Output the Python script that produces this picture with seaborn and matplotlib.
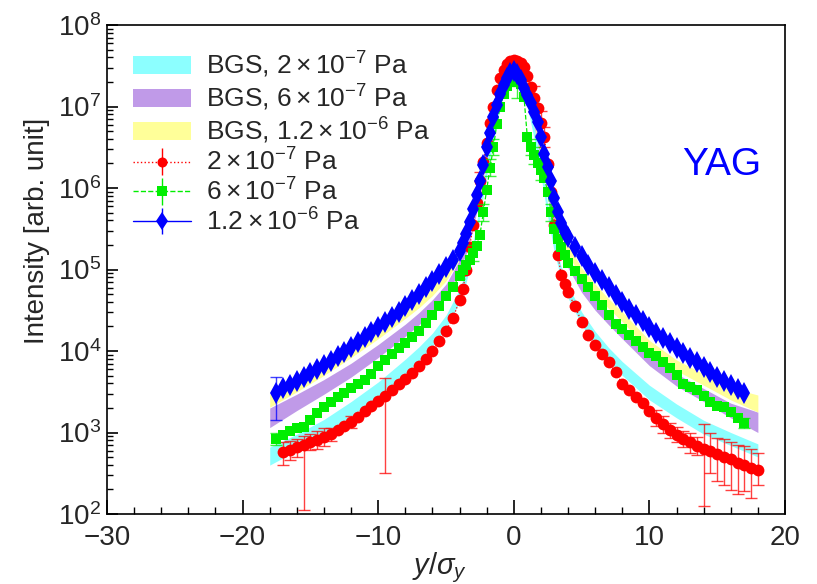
import numpy as np
import pandas as pd
import matplotlib
matplotlib.use("Agg")
import matplotlib.pyplot as plt
import seaborn as sns
from matplotlib.patches import Patch
from matplotlib.ticker import LogLocator, MultipleLocator, NullFormatter

# ---------------- data (intensity values, stored as log10) ----------------
point_x = [-17.5, -17, -16.5, -16, -15.5, -15, -14.5, -14, -13.5, -13, -12.5, -12, -11.5, -11,
           -10.5, -10, -9.5, -9, -8.5, -8, -7.5, -7, -6.5, -6, -5.5, -5, -4.5, -4,
           -3.75, -3.5, -3.25, -3, -2.75, -2.5, -2.25, -2, -1.75, -1.5, -1.25, -1, -0.75, -0.5, -0.25,
           0, 0.25, 0.5, 0.75, 1, 1.25, 1.5, 1.75, 2, 2.25, 2.5, 2.75, 3, 3.25, 3.5, 3.75,
           4, 4.5, 5, 5.5, 6, 6.5, 7, 7.5, 8, 8.5, 9, 9.5, 10, 10.5, 11, 11.5, 12, 12.5, 13,
           13.5, 14, 14.5, 15, 15.5, 16, 16.5, 17, 17.5, 18]

nan = float("nan")

red_log10 = [nan, 2.76, 2.79, 2.82, 2.85, 2.88, 2.91, 2.94, 2.98, 3.03, 3.08, 3.13, 3.19, 3.26,
             3.32, 3.39, 3.45, 3.52, 3.59, 3.66, 3.73, 3.81, 3.90, 4.00, 4.12, 4.25, 4.40, 4.62,
             4.76, 5.00, 5.28, 5.55, 5.82, 6.08, 6.32, 6.55, 6.80, 7.00, 7.20, 7.35, 7.45, 7.52, 7.56,
             7.57, 7.56, 7.53, 7.48, 7.38, 7.24, 7.10, 6.98, 6.80, 6.62, 6.30, 5.95, 5.55, 5.18, 4.93, 4.82,
             4.72, 4.55, 4.36, 4.20, 4.07, 3.96, 3.86, 3.74, 3.60, 3.52, 3.44, 3.36, 3.26, 3.18, 3.10,
             3.03, 2.97, 2.92, 2.88, 2.84, 2.80, 2.77, 2.74, 2.70, 2.67, 2.63, 2.60, 2.57, 2.54]

green_log10 = [2.92, 2.97, 3.02, 3.05, 3.07, 3.15, 3.24, 3.31, 3.38, 3.44, 3.49, 3.54, 3.59, 3.64,
               3.72, 3.82, 3.89, 3.96, 4.04, 4.10, 4.17, 4.25, 4.34, 4.44, 4.55, 4.67, 4.78, 4.92,
               4.99, 5.05, 5.12, 5.20, 5.29, 5.42, 5.70, 5.98, 6.25, 6.50, 6.79, 7.00, 7.15, 7.25, 7.33,
               7.33, 7.30, 7.27, 7.12, 6.62, 6.50, 6.40, 6.31, 6.22, 6.12, 5.95, 5.70, 5.50, 5.38, 5.28, 5.18,
               5.08, 4.98, 4.88, 4.79, 4.68, 4.56, 4.44, 4.33, 4.27, 4.20, 4.12, 4.05, 3.98, 3.94, 3.87,
               3.79, 3.70, 3.60, 3.56, 3.52, 3.45, 3.38, 3.33, 3.31, 3.25, 3.18, 3.12, nan, nan]

blue_log10 = [3.49, 3.54, 3.58, 3.63, 3.68, 3.73, 3.78, 3.83, 3.88, 3.94, 3.99, 4.05, 4.11, 4.17,
              4.23, 4.29, 4.35, 4.42, 4.48, 4.55, 4.62, 4.70, 4.78, 4.86, 4.94, 5.03, 5.12, 5.23,
              5.32, 5.44, 5.58, 5.74, 5.92, 6.08, 6.28, 6.50, 6.68, 6.87, 7.02, 7.15, 7.26, 7.35, 7.41,
              7.43, 7.40, 7.32, 7.23, 7.14, 7.04, 6.93, 6.81, 6.62, 6.42, 6.26, 6.09, 5.88, 5.70, 5.57, 5.46,
              5.40, 5.28, 5.16, 5.06, 4.96, 4.87, 4.78, 4.69, 4.60, 4.52, 4.44, 4.37, 4.30, 4.22, 4.16,
              4.10, 4.04, 3.98, 3.92, 3.86, 3.80, 3.74, 3.68, 3.63, 3.58, 3.53, 3.49, nan, nan]

# error bars: x position, lower and upper bound (log10)
red_err_x = [-17, -16.5, -16, -15.5, -15, -14.5, -14, -13.5, -12, -9.5, -2.5, 1.5, 2, 2.25,
             10.5, 11, 11.5, 12, 12.5, 13, 13.5, 14, 14.5, 15, 15.5, 16, 16.5, 17, 17.5, 18]
red_err_lo = [2.60, 2.66, 2.70, 2.05, 2.78, 2.80, 2.84, 2.90, 3.05, 2.50, 5.95, 6.95, 6.65, 6.50,
              3.08, 3.00, 2.93, 2.88, 2.82, 2.75, 2.72, 2.10, 2.50, 2.40, 2.35, 2.30, 2.25, 2.28, 2.20, 2.35]
red_err_hi = [2.88, 2.90, 2.92, 2.96, 2.98, 3.02, 3.05, 3.06, 3.20, 3.67, 6.20, 7.25, 6.95, 6.75,
              3.28, 3.20, 3.12, 3.07, 3.02, 3.00, 2.95, 3.10, 3.00, 2.93, 2.92, 2.88, 2.85, 2.83, 2.80, 2.75]

green_err_x = [-17.5, -3, -2.25, -1.75, -1.5, -0.25, 0.25, 1.25, 1.5, 2, 2.75, 17]
green_err_lo = [2.85, 5.10, 5.60, 6.15, 6.40, 7.25, 7.10, 6.40, 6.30, 6.10, 5.60, 3.05]
green_err_hi = [3.00, 5.30, 5.80, 6.35, 6.60, 7.40, 7.40, 6.60, 6.50, 6.30, 5.80, 3.18]

blue_err_x = [-17.5]
blue_err_lo = [3.15]
blue_err_hi = [3.68]

# BGS bands (log10 lower / upper edge)
band_x = [-18, -16, -14, -12, -10, -8, -7, -6, -5, -4, -3.5, -3, -2.5, -2, -1.5, -1, -0.5, 0,
          0.5, 1, 1.5, 2, 2.5, 3, 3.5, 4, 5, 6, 7, 8, 10, 12, 14, 16, 18]
cyan_lo = [2.60, 2.78, 2.98, 3.20, 3.44, 3.72, 3.88, 4.06, 4.28, 4.60, 4.85, 5.20, 5.65, 6.15, 6.60,
           7.00, 7.30, 7.40, 7.30, 7.00, 6.60, 6.15, 5.65, 5.20, 4.88, 4.65, 4.32, 4.08, 3.88, 3.70,
           3.40, 3.18, 2.98, 2.84, 2.70]
cyan_hi = [2.82, 2.98, 3.16, 3.38, 3.62, 3.90, 4.05, 4.22, 4.44, 4.76, 5.00, 5.35, 5.80, 6.30, 6.75,
           7.15, 7.42, 7.50, 7.42, 7.15, 6.75, 6.30, 5.80, 5.35, 5.03, 4.80, 4.48, 4.24, 4.04, 3.87,
           3.58, 3.35, 3.15, 3.00, 2.86]
purple_lo = [3.06, 3.27, 3.47, 3.68, 3.92, 4.18, 4.32, 4.48, 4.68, 4.98, 5.20, 5.50, 5.90, 6.35, 6.75,
             7.05, 7.30, 7.38, 7.30, 7.05, 6.75, 6.35, 5.90, 5.50, 5.22, 5.02, 4.72, 4.50, 4.32, 4.15,
             3.82, 3.57, 3.38, 3.18, 3.00]
purple_hi = [3.30, 3.47, 3.65, 3.85, 4.08, 4.33, 4.47, 4.63, 4.82, 5.12, 5.34, 5.64, 6.04, 6.48, 6.88,
             7.18, 7.42, 7.48, 7.42, 7.18, 6.88, 6.48, 6.04, 5.64, 5.36, 5.16, 4.86, 4.64, 4.46, 4.30,
             3.96, 3.72, 3.54, 3.36, 3.25]
yellow_lo = [3.31, 3.50, 3.70, 3.92, 4.15, 4.40, 4.53, 4.68, 4.86, 5.12, 5.32, 5.60, 5.98, 6.40, 6.78,
             7.07, 7.30, 7.37, 7.30, 7.07, 6.78, 6.40, 5.98, 5.62, 5.36, 5.18, 4.90, 4.70, 4.52, 4.36,
             4.00, 3.76, 3.58, 3.40, 3.25]
yellow_hi = [3.47, 3.66, 3.85, 4.06, 4.29, 4.53, 4.66, 4.81, 4.98, 5.24, 5.44, 5.72, 6.10, 6.52, 6.90,
             7.19, 7.42, 7.47, 7.42, 7.19, 6.90, 6.52, 6.10, 5.74, 5.48, 5.30, 5.02, 4.82, 4.64, 4.48,
             4.13, 3.89, 3.72, 3.55, 3.46]

band_labels = [r"BGS, $\mathdefault{2\times10^{-7}}$ Pa", r"BGS, $\mathdefault{6\times10^{-7}}$ Pa",
               r"BGS, $\mathdefault{1.2\times10^{-6}}$ Pa"]
series_labels = [r"$\mathdefault{2\times10^{-7}}$ Pa", r"$\mathdefault{6\times10^{-7}}$ Pa",
                 r"$\mathdefault{1.2\times10^{-6}}$ Pa"]

# ---------------- style ----------------
sns.set_style("ticks")
plt.rcParams["font.family"] = ["Liberation Sans", "DejaVu Sans"]
plt.rcParams["mathtext.fontset"] = "custom"
plt.rcParams["mathtext.rm"] = "Liberation Sans"
plt.rcParams["mathtext.it"] = "Liberation Sans:italic"
plt.rcParams["mathtext.bf"] = "Liberation Sans:bold"
plt.rcParams["axes.linewidth"] = 1.2

fig = plt.figure(figsize=(8.17, 5.84), dpi=100)
ax = fig.add_axes([107 / 817, 1 - 514 / 584, 678 / 817, 489 / 584])

band_colors = ["#8cffff", "#c09ae8", "#ffff99"]
for lo, hi, col in zip([cyan_lo, purple_lo, yellow_lo], [cyan_hi, purple_hi, yellow_hi], band_colors):
    ax.fill_between(band_x, 10 ** np.array(lo), 10 ** np.array(hi), color=col, lw=0, zorder=1)

series = [
    (red_log10, red_err_x, red_err_lo, red_err_hi, "#ff0000", "o", 8.5, ":"),
    (green_log10, green_err_x, green_err_lo, green_err_hi, "#00ee00", "s", 7.8, "--"),
    (blue_log10, blue_err_x, blue_err_lo, blue_err_hi, "#0000ff", "d", 11.0, "-"),
]

handles = []
for k, (vals, ex, elo, ehi, col, mk, ms, ls) in enumerate(series):
    df = pd.DataFrame({"x": point_x, "I": 10 ** np.array(vals)}).dropna()
    lookup = dict(zip(point_x, vals))
    ey = np.array([10 ** lookup[v] for v in ex])
    lo = 10 ** np.array(elo)
    hi = 10 ** np.array(ehi)
    ax.errorbar(ex, ey, yerr=[ey - lo, hi - ey], fmt="none", ecolor=col, elinewidth=1.0,
                capsize=4, capthick=1.0, alpha=0.75, zorder=2 + k)
    sns.lineplot(data=df, x="x", y="I", ax=ax, color=col, linestyle=ls, lw=0.9,
                 marker=mk, markersize=ms, markeredgewidth=0, estimator=None, sort=False,
                 zorder=3 + k)
    h = ax.errorbar([nan], [nan], yerr=[[1], [1]], color=col, linestyle=ls, lw=1.0, marker=mk,
                    markersize=ms * 0.85, markeredgewidth=0, capsize=4, elinewidth=1.0)
    handles.append(h)

ax.set_yscale("log")
ax.set_xlim(-30, 20)
ax.set_ylim(1e2, 1e8)
ax.xaxis.set_major_locator(MultipleLocator(10))
ax.xaxis.set_minor_locator(MultipleLocator(2))
ax.yaxis.set_major_locator(LogLocator(base=10, numticks=10))
ax.yaxis.set_minor_locator(LogLocator(base=10, subs=np.arange(2, 10), numticks=100))
ax.yaxis.set_minor_formatter(NullFormatter())
ax.xaxis.set_minor_formatter(NullFormatter())

ax.tick_params(which="both", direction="in", top=False, right=False, color="black")
ax.tick_params(axis="x", which="major", length=10, width=1.2, labelsize=20, pad=8)
ax.tick_params(axis="x", which="minor", length=5, width=1.0)
ax.tick_params(axis="y", which="major", length=8, width=1.2, labelsize=20, pad=4)
ax.tick_params(axis="y", which="minor", length=4, width=1.0)
for s in ax.spines.values():
    s.set_color("black")
    s.set_linewidth(1.2)

ax.set_ylabel("Intensity [arb. unit]", fontsize=20)
ax.yaxis.set_label_coords(-0.084, 0.58)
ax.set_xlabel(r"$y/\sigma_y$", fontsize=21)
ax.xaxis.set_label_coords(0.491, -0.074)

patches = [Patch(facecolor=c, edgecolor="none") for c in band_colors]
ax.legend(patches + handles, band_labels + series_labels, loc="upper left",
          bbox_to_anchor=(133 / 817, 1 - 50 / 584), bbox_transform=fig.transFigure,
          frameon=False, fontsize=19, handlelength=2.2, handleheight=0.68, handletextpad=0.55,
          labelspacing=0.1, borderpad=0, borderaxespad=0)

fig.text(722 / 817, 1 - 165 / 584, "YAG", color="#0000ff", fontsize=28, ha="center", va="center")

fig.savefig("out.png", dpi=100)
